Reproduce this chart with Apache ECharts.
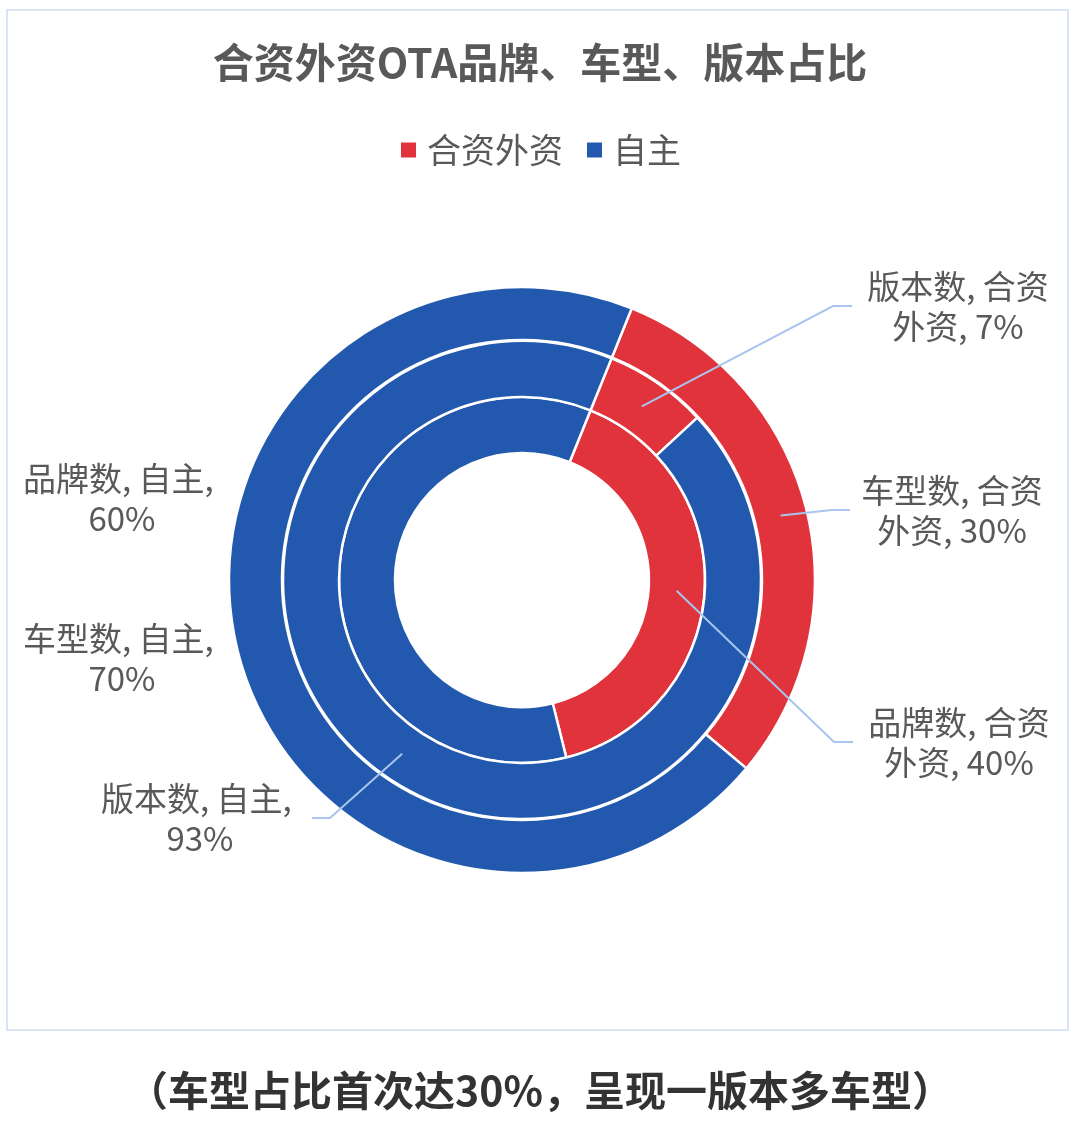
<!DOCTYPE html>
<html>
<head>
<meta charset="utf-8">
<script src="https://cdn.jsdelivr.net/npm/echarts@6/dist/echarts.min.js"></script>
<style>
html,body{margin:0;padding:0;background:#fff;}
#chart{width:1080px;height:1122px;}
</style>
</head>
<body>
<div id="chart"></div>
<script>
// ---- data ----
const categories = ['合资外资', '自主'];
const ringNames = ['品牌数', '版本数', '车型数']; // inner -> outer
const brandValues = [40, 60];
const versionValues = [7, 93];
const modelValues = [30, 70];
const titleText = '合资外资OTA品牌、车型、版本占比';
const captionText = '（车型占比首次达30%，呈现一版本多车型）';

// ---- layout ----
const FONT = '"Noto Sans CJK SC", "Noto Sans", sans-serif';
const colors = ['#E0333B', '#2259AE'];
const lineColor = '#A9C5EE';
const center = [522, 580];
const radii = [[127, 183], [183, 239], [240, 293]];
const labelPos = {
  '0-0': [959, 742], '0-1': [122, 498],
  '1-0': [958, 306], '1-1': [200, 818],
  '2-0': [952, 510], '2-1': [122, 658]
};
// leader line: [end offset from label centre, elbow offset from label centre]
const lineOffsets = {
  '0-0': [-106, -125],
  '1-0': [-106, -125],
  '1-1': [112, 130],
  '2-0': [-102, -120]
};

const ringValues = [brandValues, versionValues, modelValues];

const series = ringValues.map((vals, si) => ({
  type: 'pie',
  name: ringNames[si],
  center: center,
  radius: radii[si],
  startAngle: 68,
  clockwise: true,
  avoidLabelOverlap: false,
  animation: false,
  itemStyle: {borderColor: '#fff', borderWidth: 2.5},
  label: {
    show: true,
    position: 'outside',
    formatter: p => p.seriesName + ', ' + p.name + ', ' + p.value + '%',
    fontFamily: FONT,
    fontSize: 33,
    lineHeight: 40,
    color: '#595959',
    width: 200,
    overflow: 'break',
    align: 'center'
  },
  labelLine: {show: false},
  labelLayout: p => {
    const pos = labelPos[p.seriesIndex + '-' + p.dataIndex];
    return {x: pos[0], y: pos[1], align: 'center', verticalAlign: 'middle'};
  },
  data: vals.map((v, i) => ({name: categories[i], value: v, itemStyle: {color: colors[i]}}))
}));

const baseGraphic = [
  {
    id: 'frame',
    type: 'rect',
    shape: {x: 7, y: 10, width: 1061, height: 1020},
    style: {fill: 'none', stroke: '#D9E5F5', lineWidth: 2},
    silent: true
  },
  {
    id: 'caption',
    type: 'text',
    left: 'center',
    top: 1070,
    style: {text: captionText, font: 'bold 41px ' + FONT, fill: '#333333'}
  }
];

const chart = echarts.init(document.getElementById('chart'), null, {renderer: 'canvas'});
chart.setOption({
  backgroundColor: '#fff',
  animation: false,
  title: {
    text: titleText,
    left: 'center',
    top: 37,
    textStyle: {fontFamily: FONT, fontSize: 41, fontWeight: 'bold', color: '#595959'}
  },
  legend: {
    data: categories,
    left: 'center',
    top: 128,
    itemWidth: 17,
    itemHeight: 17,
    itemGap: 22,
    icon: 'rect',
    textStyle: {fontFamily: FONT, fontSize: 34, color: '#595959', padding: [0, 0, 0, 5]}
  },
  color: colors,
  graphic: baseGraphic,
  series: series
});

// leader lines from the library's computed sector layout (centre of each ring segment)
const lines = [];
Object.keys(lineOffsets).forEach(k => {
  const [si, di] = k.split('-').map(Number);
  const lay = chart.getModel().getSeriesByIndex(si).getData().getItemLayout(di);
  if (!lay) return;
  const mid = (lay.startAngle + lay.endAngle) / 2;
  const rm = (lay.r + lay.r0) / 2;
  const sx = lay.cx + rm * Math.cos(mid);
  const sy = lay.cy + rm * Math.sin(mid);
  const pos = labelPos[k];
  const off = lineOffsets[k];
  lines.push({
    id: 'line' + k,
    type: 'polyline',
    z: 100,
    silent: true,
    shape: {points: [[sx, sy], [pos[0] + off[1], pos[1]], [pos[0] + off[0], pos[1]]]},
    style: {stroke: lineColor, lineWidth: 2, fill: 'none'}
  });
});
chart.setOption({graphic: baseGraphic.concat(lines)});
</script>
</body>
</html>
